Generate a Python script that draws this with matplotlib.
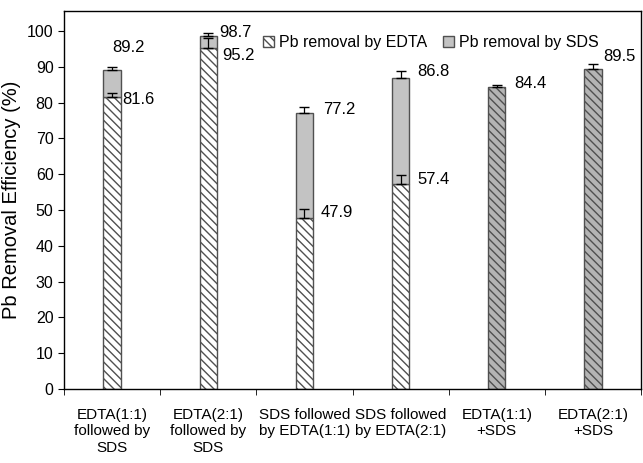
import numpy as np
import matplotlib
matplotlib.use('Agg')
import matplotlib.pyplot as plt
from matplotlib.patches import Patch

plt.rcParams['font.family'] = ['Liberation Sans', 'DejaVu Sans']
plt.rcParams['hatch.linewidth'] = 1.0

# --- datos ---
categorias = ['EDTA(1:1)\nfollowed by\nSDS', 'EDTA(2:1)\nfollowed by\nSDS',
              'SDS followed\nby EDTA(1:1)', 'SDS followed\nby EDTA(2:1)',
              'EDTA(1:1)\n+SDS', 'EDTA(2:1)\n+SDS']
edta      = [81.6, 95.2, 47.9, 57.4, 0, 0]
edta_err  = [1.2, 3.0, 2.4, 2.5, 0, 0]
total     = [89.2, 98.7, 77.2, 86.8, 84.4, 89.5]
total_err = [0.8, 0.7, 1.6, 2.0, 0.5, 1.4]
mezcla    = [False, False, False, False, True, True]

# posiciones de etiquetas (dx en categorias, y en datos)
lab_total = [(0.17, 95.3, 'center'), (0.11, 99.7, 'left'), (0.19, 78.2, 'left'),
             (0.17, 88.7, 'left'), (0.18, 85.5, 'left'), (0.11, 93.0, 'left')]
lab_edta = [(0.11, 80.8), (0.145, 93.3), (0.17, 49.2), (0.17, 58.6)]

x = np.arange(len(categorias))
w = 0.18
edge = '#505050'

fig = plt.figure(figsize=(6.43, 4.63), dpi=100)
ax = fig.add_axes([0.0995, 0.160, 0.8975, 0.816])

for i in range(len(x)):
    if mezcla[i]:
        ax.bar(x[i], total[i], w, color='#b4b4b4', edgecolor=edge, hatch='\\\\\\\\', linewidth=1)
        ax.errorbar(x[i], total[i], yerr=[[0], [total_err[i]]], fmt='none',
                    ecolor='black', elinewidth=0.9, capsize=3.5)
    else:
        ax.bar(x[i], edta[i], w, color='white', edgecolor=edge, hatch='\\\\\\\\', linewidth=1)
        ax.bar(x[i], total[i] - edta[i], w, bottom=edta[i], color='#c3c3c3',
               edgecolor=edge, linewidth=1)
        ax.errorbar(x[i], edta[i], yerr=[[0], [edta_err[i]]], fmt='none',
                    ecolor='black', elinewidth=0.9, capsize=3.5)
        ax.errorbar(x[i], total[i], yerr=[[0], [total_err[i]]], fmt='none',
                    ecolor='black', elinewidth=0.9, capsize=3.5)

fs = 11.5
fs_val = 12
for i, (dx, yy, ha) in enumerate(lab_total):
    ax.text(x[i] + dx, yy, f'{total[i]:.1f}', ha=ha, va='center', fontsize=fs_val)
for i, (dx, yy) in enumerate(lab_edta):
    ax.text(x[i] + dx, yy, f'{edta[i]:.1f}', ha='left', va='center', fontsize=fs_val)

ax.set_xlim(-0.5, len(x) - 0.5)
ax.set_ylim(0, 105.6)
ax.set_yticks(np.arange(0, 101, 10))
ax.set_xticks(x)
ax.set_xticklabels(categorias, fontsize=11, linespacing=1.25)
ax.set_xticks(np.arange(-0.5, len(x), 1), minor=True)
ax.tick_params(axis='x', which='major', length=0, pad=13.5)
ax.tick_params(axis='x', which='minor', length=4, direction='out')
ax.tick_params(axis='y', length=4, direction='out', labelsize=fs)
ax.set_ylabel('Pb Removal Efficiency (%)', fontsize=14.5)
ax.yaxis.set_label_coords(-0.0745, 0.5)
for s in ax.spines.values():
    s.set_linewidth(1.0)

handles = [Patch(facecolor='white', edgecolor=edge, hatch='\\\\\\\\', label='Pb removal by EDTA'),
           Patch(facecolor='#c3c3c3', edgecolor=edge, label='Pb removal by SDS')]
ax.legend(handles=handles, loc='upper left', bbox_to_anchor=(0.334, 0.953), ncol=2,
          frameon=False, fontsize=11.5, handlelength=0.7, handleheight=0.7,
          handletextpad=0.3, columnspacing=1.0, borderaxespad=0)

plt.savefig('out.png', dpi=100)
